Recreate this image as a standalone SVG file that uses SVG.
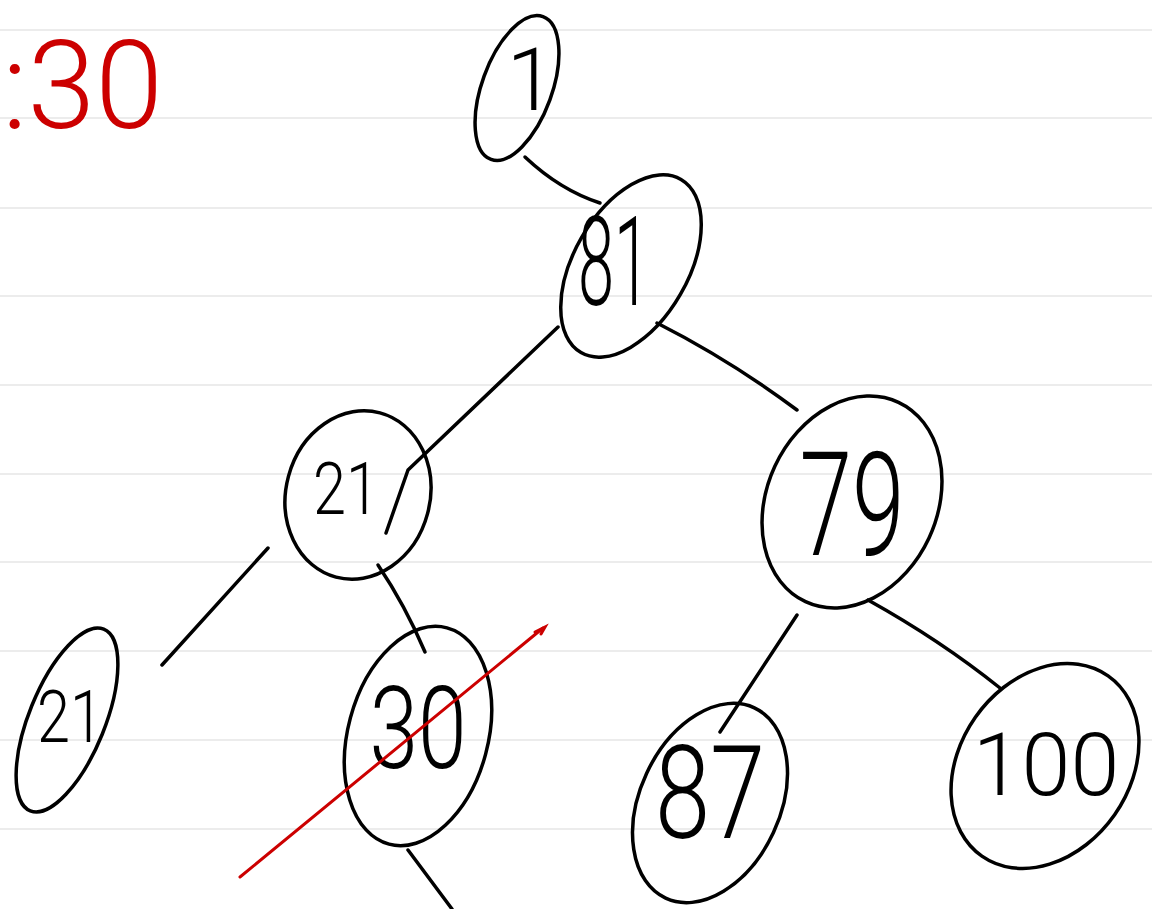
<svg xmlns="http://www.w3.org/2000/svg" width="1152" height="909" viewBox="0 0 1152 909">
<style>
.rule{stroke:#ececec;stroke-width:2}
.node{fill:none;stroke:#000;stroke-width:3.5}
.edge{fill:none;stroke:#000;stroke-width:3.5;stroke-linecap:round;stroke-linejoin:round}
.lbl{font-family:Roboto,"Liberation Sans",sans-serif;font-weight:300;fill:#000;text-anchor:middle}
.red{fill:none;stroke:#cc0000;stroke-width:3;stroke-linecap:round}
</style>
<rect width="1152" height="909" fill="#fff"/>
<g id="rules">
<line class="rule" x1="0" y1="30" x2="1152" y2="30"/>
<line class="rule" x1="0" y1="118" x2="1152" y2="118"/>
<line class="rule" x1="0" y1="208" x2="1152" y2="208"/>
<line class="rule" x1="0" y1="296" x2="1152" y2="296"/>
<line class="rule" x1="0" y1="385" x2="1152" y2="385"/>
<line class="rule" x1="0" y1="474" x2="1152" y2="474"/>
<line class="rule" x1="0" y1="562" x2="1152" y2="562"/>
<line class="rule" x1="0" y1="651" x2="1152" y2="651"/>
<line class="rule" x1="0" y1="740" x2="1152" y2="740"/>
<line class="rule" x1="0" y1="829" x2="1152" y2="829"/>
</g>
<text x="2" y="128" font-family="Roboto,'Liberation Sans',sans-serif" font-weight="300" font-size="122" fill="#cc0000">:30</text>
<g id="connectors">
<path class="edge" d="M525,157 Q560,190 600,203"/>
<path class="edge" d="M558,327 L408,470 L386,533"/>
<path class="edge" d="M657,323 Q730,360 797,410"/>
<path class="edge" d="M268,548 L162,665"/>
<path class="edge" d="M378,565 Q405,605 425,652"/>
<path class="edge" d="M408,850 L452,909"/>
<path class="edge" d="M797,615 L720,732"/>
<path class="edge" d="M868,600 Q940,640 1000,688"/>
</g>
<g id="node-1">
<ellipse class="node" cx="517" cy="88" rx="35" ry="76" transform="rotate(20 517 88)"/>
<text class="lbl" x="531" y="110" font-size="88">1</text>
</g>
<g id="node-81">
<ellipse class="node" cx="631" cy="266" rx="57" ry="100" transform="rotate(30 631 266)"/>
<text class="lbl" x="614" y="305" font-size="125" textLength="72" lengthAdjust="spacingAndGlyphs">81</text>
</g>
<g id="node-21a">
<ellipse class="node" cx="358" cy="495" rx="72" ry="85" transform="rotate(15 358 495)"/>
<text class="lbl" x="346" y="514" font-size="72" textLength="66" lengthAdjust="spacingAndGlyphs">21</text>
</g>
<g id="node-79">
<ellipse class="node" cx="852" cy="502" rx="85" ry="110" transform="rotate(25 852 502)"/>
<text class="lbl" x="852" y="555" font-size="145" textLength="105" lengthAdjust="spacingAndGlyphs">79</text>
</g>
<g id="node-21b">
<ellipse class="node" cx="67" cy="720" rx="38" ry="98" transform="rotate(22 67 720)"/>
<text class="lbl" x="70" y="742" font-size="72" textLength="66" lengthAdjust="spacingAndGlyphs">21</text>
</g>
<g id="node-30">
<ellipse class="node" cx="418" cy="736" rx="70" ry="112" transform="rotate(15 418 736)"/>
<text class="lbl" x="418" y="768" font-size="115" textLength="97" lengthAdjust="spacingAndGlyphs">30</text>
</g>
<g id="node-87">
<ellipse class="node" cx="710" cy="803" rx="70" ry="105" transform="rotate(25 710 803)"/>
<text class="lbl" x="710" y="838" font-size="130" textLength="110" lengthAdjust="spacingAndGlyphs">87</text>
</g>
<g id="node-100">
<ellipse class="node" cx="1045" cy="766" rx="85" ry="110" transform="rotate(35 1045 766)"/>
<text class="lbl" x="1046" y="795" font-size="88">100</text>
</g>
<g id="strike">
<path class="red" d="M240,877 L543,628"/>
<path class="red" d="M535,632 L545,627 L541,634" stroke-width="4"/>
</g>
</svg>
